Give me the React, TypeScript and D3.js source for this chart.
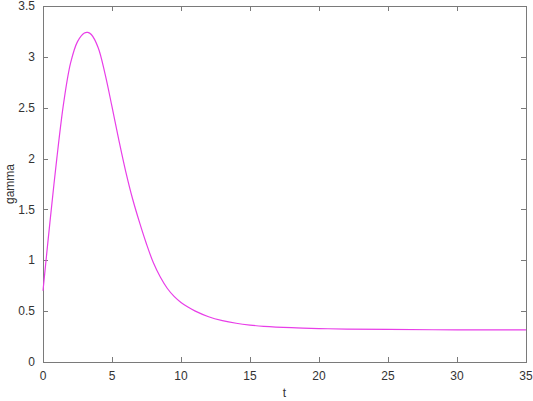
import { useEffect, useRef } from 'react';
import * as d3 from 'd3';

// values
const tValues = [0, 0.25, 0.5, 1, 1.5, 2, 2.5, 3, 3.25, 3.5, 4, 4.5, 5, 5.5, 6, 6.5, 7, 7.5, 8, 8.5, 9, 9.5, 10, 10.5, 11, 12, 13, 14, 15, 16, 18, 20, 22, 25, 30, 35];
const gammaValues = [0.7, 1.04, 1.37, 2.0, 2.55, 2.94, 3.15, 3.235, 3.24, 3.22, 3.09, 2.83, 2.51, 2.18, 1.87, 1.6, 1.37, 1.16, 0.975, 0.835, 0.725, 0.645, 0.585, 0.54, 0.503, 0.445, 0.407, 0.381, 0.363, 0.351, 0.337, 0.329, 0.324, 0.32, 0.316, 0.315];
const xTicks = [0, 5, 10, 15, 20, 25, 30, 35];
const yTicks = [0, 0.5, 1, 1.5, 2, 2.5, 3, 3.5];

export default function App() {
  const svgRef = useRef<SVGSVGElement>(null);

  useEffect(() => {
    const width = 533;
    const height = 401;
    const svg = d3.select(svgRef.current);
    svg.selectAll('*').remove();

    const left = 43, right = 526, top = 6, bottom = 362;
    const x = d3.scaleLinear().domain([0, 35]).range([left, right]);
    const y = d3.scaleLinear().domain([0, 3.5]).range([bottom, top]);
    const font = 'Liberation Sans, Arial, sans-serif';
    const tickLen = 5;

    svg.append('rect')
      .attr('width', width)
      .attr('height', height)
      .attr('fill', '#fff');

    const axes = svg.append('g')
      .attr('stroke', '#7a7a7a')
      .attr('stroke-width', 1)
      .attr('fill', 'none');

    // ticks, mirrored on the opposite side
    xTicks.forEach(v => {
      const px = Math.round(x(v)) + 0.5;
      axes.append('line').attr('x1', px).attr('x2', px).attr('y1', bottom).attr('y2', bottom - tickLen);
      axes.append('line').attr('x1', px).attr('x2', px).attr('y1', top).attr('y2', top + tickLen);
      svg.append('text')
        .attr('x', x(v))
        .attr('y', 380)
        .attr('text-anchor', 'middle')
        .attr('fill', '#333')
        .style('font-family', font)
        .style('font-size', '12px')
        .text(v);
    });

    yTicks.forEach(v => {
      const py = Math.round(y(v)) + 0.5;
      axes.append('line').attr('x1', left).attr('x2', left + tickLen).attr('y1', py).attr('y2', py);
      axes.append('line').attr('x1', right).attr('x2', right - tickLen).attr('y1', py).attr('y2', py);
      svg.append('text')
        .attr('x', 35)
        .attr('y', y(v))
        .attr('dy', '0.35em')
        .attr('text-anchor', 'end')
        .attr('fill', '#333')
        .style('font-family', font)
        .style('font-size', '12px')
        .text(v);
    });

    axes.append('rect')
      .attr('x', left + 0.5)
      .attr('y', top + 0.5)
      .attr('width', right - left)
      .attr('height', bottom - top);

    const line = d3.line<number>()
      .x((d, i) => x(tValues[i]))
      .y(d => y(d))
      .curve(d3.curveCatmullRom.alpha(0.5));

    svg.append('path')
      .datum(gammaValues)
      .attr('d', line)
      .attr('fill', 'none')
      .attr('stroke', '#e83ee8')
      .attr('stroke-width', 1.2);

    svg.append('text')
      .attr('x', (left + right) / 2)
      .attr('y', 397)
      .attr('text-anchor', 'middle')
      .attr('fill', '#333')
      .style('font-family', font)
      .style('font-size', '12px')
      .text('t');

    svg.append('text')
      .attr('transform', `translate(14,${(top + bottom) / 2}) rotate(-90)`)
      .attr('text-anchor', 'middle')
      .attr('fill', '#333')
      .style('font-family', font)
      .style('font-size', '12px')
      .text('gamma');
  }, []);

  return (
    <svg
      ref={svgRef}
      width={533}
      height={401}
      style={{ position: 'absolute', left: 0, top: 0, display: 'block' }}
    />
  );
}
